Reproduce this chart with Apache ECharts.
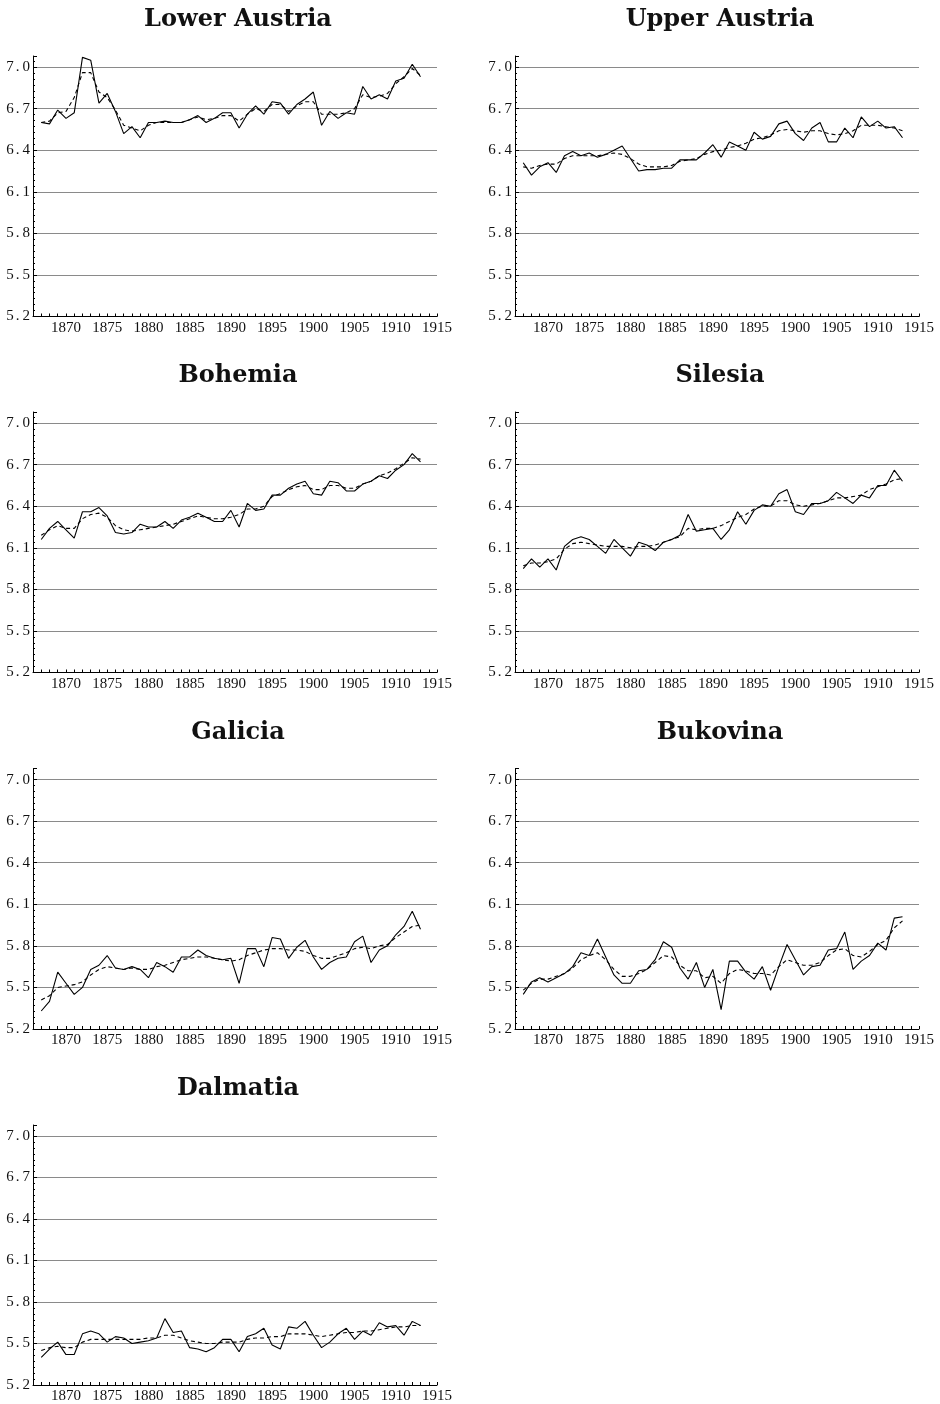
<!DOCTYPE html>
<html>
<head>
<meta charset="utf-8">
<title>Provincial series, 1867–1913</title>
<script src="https://cdn.jsdelivr.net/npm/echarts@6/dist/echarts.min.js"></script>
<style>
  html, body { margin: 0; padding: 0; background: #fff; }
  #chart { width: 940px; height: 1404px; }
</style>
</head>
<body>
<div id="chart"></div>
<script>
// Observation years shared by every province
const years = [1867, 1868, 1869, 1870, 1871, 1872, 1873, 1874, 1875, 1876,
  1877, 1878, 1879, 1880, 1881, 1882, 1883, 1884, 1885, 1886,
  1887, 1888, 1889, 1890, 1891, 1892, 1893, 1894, 1895, 1896,
  1897, 1898, 1899, 1900, 1901, 1902, 1903, 1904, 1905, 1906,
  1907, 1908, 1909, 1910, 1911, 1912, 1913];

// Axis labels
const xLabelYears = [1870, 1875, 1880, 1885, 1890, 1895, 1900, 1905, 1910, 1915];
const yTickValues = [5.2, 5.5, 5.8, 6.1, 6.4, 6.7, 7.0];

const provinceNames = ['Lower Austria', 'Upper Austria', 'Bohemia', 'Silesia',
  'Galicia', 'Bukovina', 'Dalmatia'];

// Annual values (solid) and smoothed trend (dashed)
const lowerAustria = [6.60, 6.59, 6.69, 6.63, 6.67, 7.07, 7.05, 6.74, 6.81, 6.68,
  6.52, 6.57, 6.49, 6.60, 6.60, 6.61, 6.60, 6.60, 6.62, 6.65,
  6.60, 6.63, 6.67, 6.67, 6.56, 6.66, 6.72, 6.66, 6.75, 6.74,
  6.66, 6.73, 6.77, 6.82, 6.58, 6.68, 6.63, 6.67, 6.66, 6.86,
  6.77, 6.80, 6.77, 6.90, 6.92, 7.02, 6.93];
const lowerAustriaTrend = [6.60, 6.61, 6.67, 6.68, 6.78, 6.96, 6.96, 6.82, 6.78, 6.69,
  6.58, 6.56, 6.54, 6.58, 6.60, 6.60, 6.60, 6.60, 6.62, 6.64,
  6.62, 6.63, 6.65, 6.65, 6.61, 6.66, 6.70, 6.68, 6.73, 6.73,
  6.68, 6.72, 6.75, 6.75, 6.66, 6.66, 6.66, 6.67, 6.70, 6.80,
  6.78, 6.79, 6.81, 6.88, 6.93, 6.99, 6.94];

const upperAustria = [6.31, 6.22, 6.28, 6.31, 6.24, 6.36, 6.39, 6.36, 6.38, 6.35,
  6.37, 6.40, 6.43, 6.34, 6.25, 6.26, 6.26, 6.27, 6.27, 6.33,
  6.33, 6.33, 6.38, 6.44, 6.35, 6.46, 6.43, 6.40, 6.53, 6.48,
  6.50, 6.59, 6.61, 6.52, 6.47, 6.56, 6.60, 6.46, 6.46, 6.56,
  6.49, 6.64, 6.57, 6.61, 6.56, 6.57, 6.49];
const upperAustriaTrend = [6.28, 6.27, 6.29, 6.30, 6.30, 6.34, 6.36, 6.36, 6.36, 6.36,
  6.37, 6.38, 6.37, 6.34, 6.30, 6.28, 6.28, 6.28, 6.29, 6.32,
  6.33, 6.34, 6.37, 6.39, 6.40, 6.42, 6.43, 6.45, 6.48, 6.49,
  6.51, 6.54, 6.55, 6.54, 6.53, 6.54, 6.54, 6.52, 6.51, 6.52,
  6.54, 6.58, 6.58, 6.58, 6.57, 6.56, 6.54];

const bohemia = [6.16, 6.24, 6.29, 6.23, 6.17, 6.36, 6.36, 6.39, 6.33, 6.21,
  6.20, 6.21, 6.27, 6.25, 6.25, 6.29, 6.24, 6.30, 6.32, 6.35,
  6.32, 6.29, 6.29, 6.37, 6.25, 6.42, 6.37, 6.38, 6.48, 6.48,
  6.53, 6.56, 6.58, 6.49, 6.48, 6.58, 6.57, 6.51, 6.51, 6.56,
  6.58, 6.62, 6.60, 6.66, 6.70, 6.78, 6.72];
const bohemiaTrend = [6.19, 6.23, 6.26, 6.24, 6.24, 6.31, 6.34, 6.35, 6.32, 6.26,
  6.23, 6.22, 6.23, 6.24, 6.25, 6.26, 6.27, 6.29, 6.31, 6.33,
  6.32, 6.31, 6.31, 6.32, 6.34, 6.38, 6.38, 6.40, 6.47, 6.49,
  6.52, 6.54, 6.55, 6.52, 6.52, 6.55, 6.55, 6.53, 6.53, 6.56,
  6.58, 6.62, 6.64, 6.67, 6.71, 6.75, 6.74];

const silesia = [5.95, 6.02, 5.96, 6.02, 5.94, 6.11, 6.16, 6.18, 6.16, 6.11,
  6.06, 6.16, 6.10, 6.04, 6.14, 6.12, 6.08, 6.14, 6.16, 6.19,
  6.34, 6.22, 6.23, 6.24, 6.16, 6.23, 6.36, 6.27, 6.37, 6.41,
  6.40, 6.49, 6.52, 6.36, 6.34, 6.42, 6.42, 6.44, 6.50, 6.46,
  6.42, 6.48, 6.46, 6.55, 6.55, 6.66, 6.58];
const silesiaTrend = [5.97, 5.99, 5.99, 6.00, 6.02, 6.09, 6.13, 6.14, 6.13, 6.12,
  6.11, 6.11, 6.11, 6.10, 6.11, 6.11, 6.12, 6.14, 6.16, 6.18,
  6.24, 6.23, 6.24, 6.24, 6.26, 6.29, 6.32, 6.34, 6.38, 6.40,
  6.40, 6.44, 6.44, 6.41, 6.40, 6.41, 6.42, 6.44, 6.46, 6.46,
  6.47, 6.48, 6.52, 6.54, 6.56, 6.59, 6.60];

const galicia = [5.33, 5.40, 5.61, 5.53, 5.45, 5.50, 5.63, 5.66, 5.73, 5.64,
  5.63, 5.65, 5.63, 5.57, 5.68, 5.65, 5.61, 5.72, 5.72, 5.77,
  5.73, 5.71, 5.70, 5.71, 5.53, 5.78, 5.78, 5.65, 5.86, 5.85,
  5.71, 5.79, 5.84, 5.72, 5.63, 5.68, 5.71, 5.72, 5.83, 5.87,
  5.68, 5.77, 5.80, 5.88, 5.94, 6.05, 5.92];
const galiciaTrend = [5.41, 5.44, 5.50, 5.51, 5.52, 5.54, 5.59, 5.63, 5.65, 5.64,
  5.63, 5.64, 5.63, 5.63, 5.65, 5.66, 5.68, 5.70, 5.71, 5.72,
  5.72, 5.71, 5.70, 5.69, 5.70, 5.73, 5.75, 5.77, 5.78, 5.78,
  5.77, 5.77, 5.76, 5.73, 5.71, 5.71, 5.73, 5.75, 5.78, 5.79,
  5.78, 5.80, 5.81, 5.86, 5.90, 5.94, 5.95];

const bukovina = [5.45, 5.54, 5.57, 5.54, 5.57, 5.60, 5.65, 5.75, 5.73, 5.85,
  5.72, 5.59, 5.53, 5.53, 5.62, 5.63, 5.70, 5.83, 5.79, 5.64,
  5.56, 5.68, 5.50, 5.63, 5.34, 5.69, 5.69, 5.61, 5.56, 5.65,
  5.48, 5.65, 5.81, 5.70, 5.59, 5.65, 5.66, 5.77, 5.78, 5.90,
  5.63, 5.69, 5.73, 5.82, 5.77, 6.00, 6.01];
const bukovinaTrend = [5.48, 5.53, 5.56, 5.56, 5.58, 5.60, 5.64, 5.70, 5.73, 5.75,
  5.70, 5.63, 5.58, 5.58, 5.60, 5.63, 5.68, 5.73, 5.72, 5.66,
  5.62, 5.62, 5.57, 5.58, 5.53, 5.60, 5.63, 5.62, 5.60, 5.60,
  5.59, 5.65, 5.70, 5.68, 5.66, 5.66, 5.68, 5.73, 5.77, 5.78,
  5.73, 5.72, 5.76, 5.81, 5.84, 5.93, 5.98];

const dalmatia = [5.40, 5.46, 5.51, 5.42, 5.42, 5.57, 5.59, 5.57, 5.51, 5.55,
  5.54, 5.50, 5.51, 5.52, 5.54, 5.68, 5.58, 5.59, 5.47, 5.46,
  5.44, 5.47, 5.53, 5.53, 5.44, 5.55, 5.57, 5.61, 5.49, 5.46,
  5.62, 5.61, 5.66, 5.56, 5.47, 5.51, 5.57, 5.61, 5.53, 5.59,
  5.56, 5.65, 5.62, 5.63, 5.56, 5.66, 5.63];
const dalmatiaTrend = [5.45, 5.47, 5.48, 5.47, 5.47, 5.51, 5.53, 5.53, 5.53, 5.53,
  5.53, 5.53, 5.53, 5.54, 5.54, 5.56, 5.56, 5.54, 5.52, 5.51,
  5.50, 5.50, 5.51, 5.51, 5.51, 5.53, 5.54, 5.54, 5.55, 5.55,
  5.57, 5.57, 5.57, 5.56, 5.55, 5.56, 5.57, 5.58, 5.58, 5.59,
  5.59, 5.60, 5.61, 5.62, 5.62, 5.63, 5.63];

const actualSeries = [lowerAustria, upperAustria, bohemia, silesia, galicia, bukovina, dalmatia];
const trendSeries = [lowerAustriaTrend, upperAustriaTrend, bohemiaTrend, silesiaTrend,
  galiciaTrend, bukovinaTrend, dalmatiaTrend];

// ---- layout ----
const colLeft = [33, 515];
const rowTop = [56, 412, 768.5, 1125];
const plotW = 404;
const plotH = 260.5;

const labelFont = 'Liberation Serif, Times New Roman, serif';
const titleFont = 'DejaVu Serif, Georgia, serif';
const labelSize = 15;
const labelColor = '#111';

const isYLabel = v => yTickValues.some(t => Math.abs(t - v) < 1e-6);

// y labels: digits with a little air around the decimal point
const yLabelRich = {
  d: { fontFamily: labelFont, fontSize: labelSize, color: labelColor },
  p: { fontFamily: labelFont, fontSize: labelSize, color: labelColor, padding: [0, 3, 0, 2] }
};
const formatYLabel = v => {
  if (!isYLabel(v)) return '';
  const parts = v.toFixed(1).split('.');
  return '{d|' + parts[0] + '}{p|.}{d|' + parts[1] + '}';
};

const grids = [], xAxes = [], yAxes = [], series = [], titles = [];

provinceNames.forEach((name, i) => {
  const col = i % 2, row = Math.floor(i / 2);
  const left = colLeft[col], top = rowTop[row];
  grids.push({ left: left, top: top, width: plotW, height: plotH, containLabel: false });

  titles.push({
    text: name,
    left: left + plotW / 2 - 2,
    top: top - 53,
    textAlign: 'center',
    textStyle: { fontFamily: titleFont, fontWeight: 'bold', fontSize: 24, color: '#111' }
  });

  xAxes.push({
    type: 'value', gridIndex: i,
    min: 1866, max: 1915, interval: 1,
    axisLine: { show: true, onZero: false, lineStyle: { color: '#000', width: 1 } },
    axisTick: { show: true, inside: true, length: 3, lineStyle: { color: '#000', width: 1 } },
    axisLabel: {
      show: true, margin: 4, color: labelColor,
      fontFamily: labelFont, fontSize: labelSize,
      showMinLabel: false,
      formatter: v => (xLabelYears.indexOf(Math.round(v)) >= 0 && Math.abs(v - Math.round(v)) < 1e-6) ? String(Math.round(v)) : ''
    },
    splitLine: { show: false }
  });

  yAxes.push({
    type: 'value', gridIndex: i,
    min: 5.2, max: 7.08, interval: 0.3,
    axisLine: { show: true, onZero: false, lineStyle: { color: '#000', width: 1 } },
    axisTick: { show: true, inside: true, length: 4, lineStyle: { color: '#000', width: 1 } },
    minorTick: { show: true, splitNumber: 7, length: 2, lineStyle: { color: '#000', width: 1 } },
    axisLabel: {
      show: true, margin: 3, color: labelColor,
      fontFamily: labelFont, fontSize: labelSize,
      showMaxLabel: false,
      formatter: formatYLabel,
      rich: yLabelRich
    },
    splitLine: {
      show: true, showMinLine: false, showMaxLine: false,
      lineStyle: { color: '#8a8a8a', width: 1 }
    }
  });

  series.push({
    type: 'line', xAxisIndex: i, yAxisIndex: i,
    data: years.map((y, k) => [y, actualSeries[i][k]]),
    showSymbol: false, symbol: 'none', silent: true,
    lineStyle: { color: '#000', width: 1.1, type: 'solid' },
    z: 3
  });
  series.push({
    type: 'line', xAxisIndex: i, yAxisIndex: i,
    data: years.map((y, k) => [y, trendSeries[i][k]]),
    showSymbol: false, symbol: 'none', silent: true,
    lineStyle: { color: '#000', width: 1.1, type: [4, 3] },
    z: 2
  });
});

const chart = echarts.init(document.getElementById('chart'), null, { renderer: 'canvas' });
chart.setOption({
  backgroundColor: '#fff',
  animation: false,
  title: titles,
  grid: grids,
  xAxis: xAxes,
  yAxis: yAxes,
  series: series
});
</script>
</body>
</html>
